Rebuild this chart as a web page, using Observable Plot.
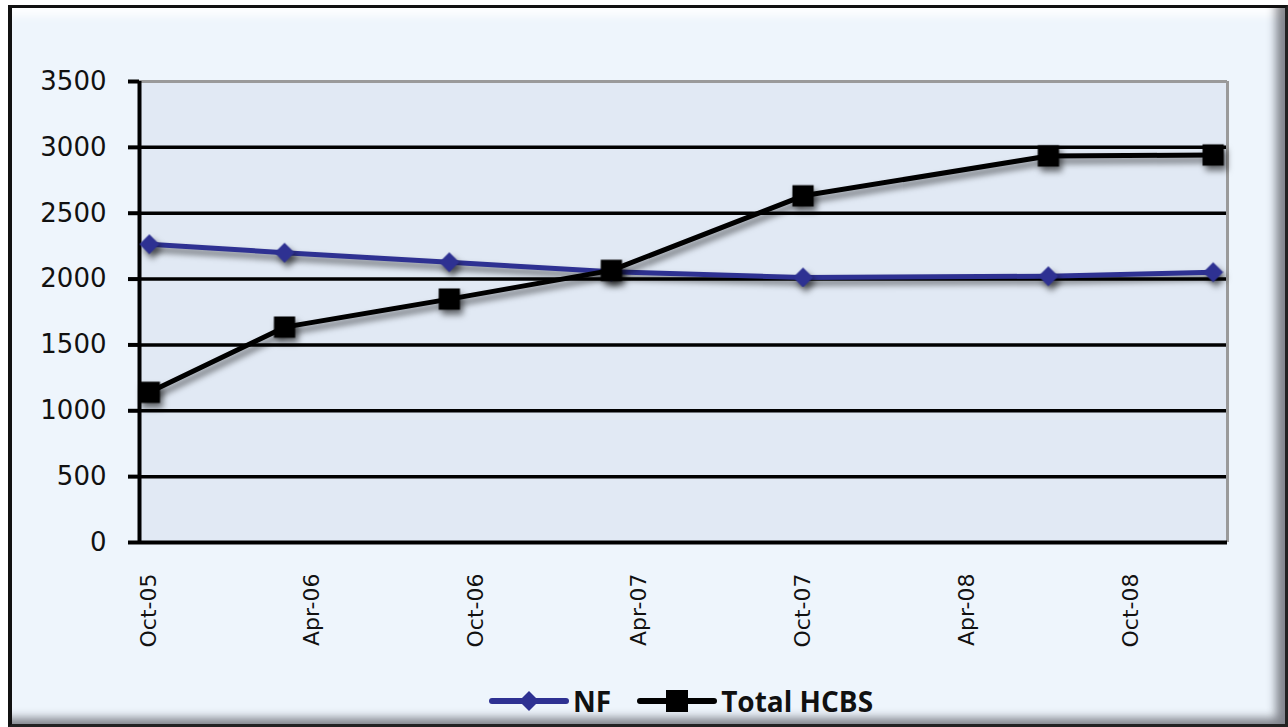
<!DOCTYPE html>
<html>
<head>
<meta charset="utf-8">
<script src="https://cdn.jsdelivr.net/npm/d3@7"></script>
<script src="https://cdn.jsdelivr.net/npm/@observablehq/plot@0.6"></script>
<style>
  html, body { margin: 0; padding: 0; background: #ffffff; }
  body { width: 1288px; height: 727px; position: relative; overflow: hidden; }
  #frame {
    position: absolute; left: 8px; top: 5px; width: 1273px; height: 716px;
    border-left: 4px solid #111; border-top: 3px solid #111; border-right: 3px solid #222; border-bottom: 3px solid #222;
    background: #eef5fc;
    box-shadow: inset -16px -13px 10px -7px rgba(40,40,50,0.55), inset 0 14px 10px -6px rgba(255,255,255,0.9);
  }
  #chart { position: absolute; left: 0; top: 0; }
  #chart svg { overflow: visible; }
  #chart g[aria-label="line"], #chart g[aria-label="dot"] {
    filter: drop-shadow(3px 5px 3px rgba(0,0,0,0.55));
  }
  #legend { position: absolute; left: 489px; top: 684px; height: 34px; display: flex; align-items: center;
    font-family: "Open Sans", sans-serif; font-weight: 700; font-size: 28px; color: #111; }
  #legend span { margin-left: 4px; margin-right: 26px; line-height: 34px; }
</style>
</head>
<body>
<div id="frame"></div>
<div id="chart"></div>
<div id="legend"></div>
<script>
// ---- data ----
const dates = ["2005-10-01", "2006-03-01", "2006-09-01", "2007-03-01", "2007-10-01", "2008-07-01", "2009-01-01"];
const nfValues = [2265, 2200, 2128, 2055, 2012, 2022, 2052];
const hcbsValues = [1140, 1635, 1848, 2066, 2632, 2935, 2942];
const seriesNames = ["NF", "Total HCBS"];
const seriesColors = ["#2e3192", "#000000"];
const xTickDates = ["2005-10-01", "2006-04-01", "2006-10-01", "2007-04-01", "2007-10-01", "2008-04-01", "2008-10-01"];
const xTickLabels = ["Oct-05", "Apr-06", "Oct-06", "Apr-07", "Oct-07", "Apr-08", "Oct-08"];
const yTicks = [0, 500, 1000, 1500, 2000, 2500, 3000, 3500];
const xDomain = ["2005-09-20", "2009-01-17"];

const nf = dates.map((d, i) => ({date: new Date(d), value: nfValues[i]}));
const hcbs = dates.map((d, i) => ({date: new Date(d), value: hcbsValues[i]}));
const tickDates = xTickDates.map(d => new Date(d));
const yMax = yTicks[yTicks.length - 1];

const W = 1288, H = 668;
const chart = Plot.plot({
  width: W, height: H,
  marginLeft: 139, marginRight: 61, marginTop: 81, marginBottom: H - 542,
  x: {type: "utc", domain: xDomain.map(d => new Date(d))},
  y: {domain: [0, yMax]},
  style: {background: "transparent", color: "#111", fontFamily: "'DejaVu Sans', sans-serif"},
  marks: [
    Plot.frame({fill: "#e1e9f4", stroke: "none"}),
    Plot.ruleY(yTicks.filter(v => v > 0 && v < yMax), {stroke: "#000", strokeWidth: 3.5}),
    Plot.ruleY([yMax], {stroke: "#9a9a9a", strokeWidth: 3}),
    Plot.ruleX([new Date(xDomain[1])], {stroke: "#9a9a9a", strokeWidth: 3}),
    Plot.ruleY([0], {stroke: "#000", strokeWidth: 4}),
    Plot.ruleX([new Date(xDomain[0])], {stroke: "#000", strokeWidth: 4}),
    Plot.axisY({ticks: yTicks, tickSize: 11, tickPadding: 22, strokeWidth: 4, stroke: "#000",
      tickFormat: d => String(d), label: null, fontSize: 26, fontFamily: "'DejaVu Sans', sans-serif", fill: "#111"}),
    Plot.axisX({ticks: tickDates, tickSize: 0, tickPadding: 31, tickRotate: -90, label: null,
      tickFormat: d => xTickLabels[tickDates.findIndex(t => +t === +d)],
      fontSize: 22, fontFamily: "'DejaVu Sans', sans-serif", fill: "#111"}),
    Plot.line(nf, {x: "date", y: "value", stroke: seriesColors[0], strokeWidth: 5}),
    Plot.dot(nf, {x: "date", y: "value", symbol: "diamond2", r: 9, fill: seriesColors[0], stroke: "none"}),
    Plot.line(hcbs, {x: "date", y: "value", stroke: seriesColors[1], strokeWidth: 5}),
    Plot.dot(hcbs, {x: "date", y: "value", symbol: "square", r: 12, fill: seriesColors[1], stroke: "none"})
  ]
});
document.getElementById("chart").appendChild(chart);

// legend
const legend = document.getElementById("legend");
const symbols = ["diamond", "square"];
seriesNames.forEach((name, i) => {
  const sw = document.createElementNS("http://www.w3.org/2000/svg", "svg");
  sw.setAttribute("width", 80); sw.setAttribute("height", 30);
  const mk = symbols[i] === "diamond"
    ? `<path d="M40,5 L50,15 L40,25 L30,15 Z" fill="${seriesColors[i]}"/>`
    : `<rect x="29" y="4" width="22" height="22" fill="${seriesColors[i]}"/>`;
  sw.innerHTML = `<line x1="3" y1="15" x2="77" y2="15" stroke="${seriesColors[i]}" stroke-width="6" stroke-linecap="round"/>${mk}`;
  legend.appendChild(sw);
  const s = document.createElement("span");
  s.textContent = name;
  legend.appendChild(s);
});
</script>
</body>
</html>
